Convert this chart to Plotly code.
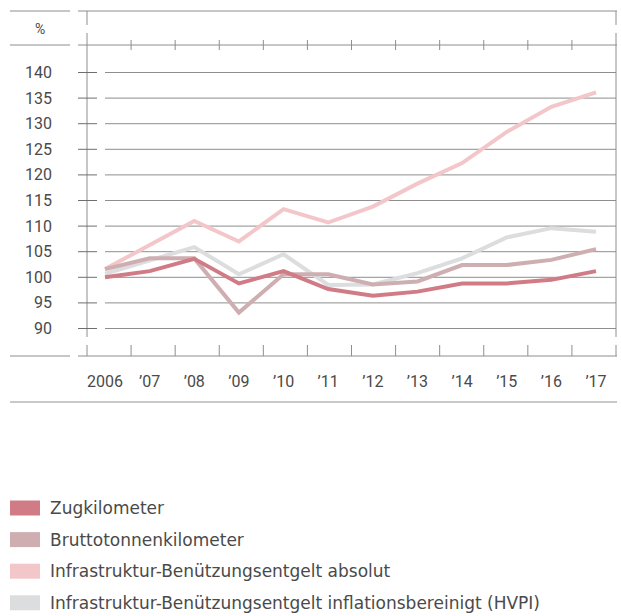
import plotly.graph_objects as go

# ---------------- data ----------------
years = ["2006", "’07", "’08", "’09", "’10", "’11", "’12", "’13", "’14", "’15", "’16", "’17"]
zugkilometer = [100.0, 101.2, 103.6, 98.8, 101.2, 97.7, 96.4, 97.2, 98.8, 98.8, 99.5, 101.2]
bruttotonnenkilometer = [101.6, 103.7, 103.7, 93.1, 100.6, 100.6, 98.6, 99.2, 102.4, 102.4, 103.4, 105.5]
ibe_absolut = [101.6, 106.3, 111.0, 107.0, 113.3, 110.7, 113.8, 118.3, 122.3, 128.4, 133.3, 136.1]
ibe_inflationsbereinigt = [100.7, 103.4, 105.9, 100.6, 104.5, 98.5, 98.6, 100.8, 103.7, 107.8, 109.6, 108.9]
y_ticks = [90, 95, 100, 105, 110, 115, 120, 125, 130, 135, 140]
series_names = [
    "Zugkilometer",
    "Bruttotonnenkilometer",
    "Infrastruktur-Benützungsentgelt absolut",
    "Infrastruktur-Benützungsentgelt inflationsbereinigt (HVPI)",
]
unit_label = "%"

# ---------------- style ----------------
W, H = 621, 616
ML, MR, MT, MB = 87, 5, 11, 260
PW, PH = W - ML - MR, H - MT - MB
FONT = "Roboto"
LFONT = "DejaVu Sans"
TXT = "#4a4a4a"
AX = "#8e8e8e"
colors = ["#d07b86", "#cfaeb1", "#f3c7ca", "#dcdddf"]
series = [zugkilometer, bruttotonnenkilometer, ibe_absolut, ibe_inflationsbereinigt]


def px2x(px):
    return (px - ML) / PW


def py2y(py):
    return (H - MB - py) / PH


fig = go.Figure()
x_idx = list(range(len(years)))
# draw order: lightest first, Zugkilometer on top
for i in [3, 2, 1, 0]:
    fig.add_trace(go.Scatter(
        x=x_idx, y=series[i], mode="lines", name=series_names[i],
        line=dict(color=colors[i], width=4), showlegend=False,
        hoverinfo="skip",
    ))

shapes = []


def hline_px(py, x0, x1, color=AX, width=1):
    shapes.append(dict(type="line", xref="paper", yref="paper",
                       x0=px2x(x0), x1=px2x(x1), y0=py2y(py), y1=py2y(py),
                       line=dict(color=color, width=width), layer="below"))


def vline_px(px, y0, y1, color=AX, width=1):
    shapes.append(dict(type="line", xref="paper", yref="paper",
                       x0=px2x(px), x1=px2x(px), y0=py2y(y0), y1=py2y(y1),
                       line=dict(color=color, width=width), layer="below"))


# frame lines
for py in (11, 45, 356):
    hline_px(py, 10, 70)
    hline_px(py, 78, 617)
hline_px(402, 10, 617, color="#c9c9c9", width=2)

for px in (87, 616):
    vline_px(px, 11, 25)
    vline_px(px, 33, 337)

# column ticks (12 bands)
for k in range(13):
    xp = k / 12
    if 0 < k < 12:
        shapes.append(dict(type="line", xref="paper", yref="paper", x0=xp, x1=xp,
                           y0=py2y(40), y1=py2y(50), line=dict(color=AX, width=1)))
    shapes.append(dict(type="line", xref="paper", yref="paper", x0=xp, x1=xp,
                       y0=py2y(345), y1=py2y(356), line=dict(color=AX, width=1)))

annotations = [dict(text=unit_label, xref="paper", yref="paper", x=px2x(40), y=py2y(29),
                    xanchor="center", yanchor="middle", showarrow=False,
                    font=dict(family=FONT, size=14, color=TXT))]

# gridlines, y ticks and y tick labels
for v in y_ticks:
    shapes.append(dict(type="line", xref="paper", yref="y", x0=px2x(105), x1=1,
                       y0=v, y1=v, line=dict(color=AX, width=1), layer="below"))
    shapes.append(dict(type="line", xref="paper", yref="y", x0=px2x(78), x1=px2x(97),
                       y0=v, y1=v, line=dict(color="#6e6e6e", width=1), layer="below"))
    annotations.append(dict(text=str(v), xref="paper", yref="y", x=px2x(54), y=v,
                            xanchor="right", yanchor="middle", showarrow=False,
                            font=dict(family=FONT, size=16, color=TXT)))

# legend (manual, square swatches)
for i, name in enumerate(series_names):
    cy = 508 + i * 31.6
    shapes.append(dict(type="rect", xref="paper", yref="paper",
                       x0=px2x(10), x1=px2x(40), y0=py2y(cy - 7.5), y1=py2y(cy + 7.5),
                       fillcolor=colors[i], line=dict(width=0)))
    annotations.append(dict(text=name, xref="paper", yref="paper", x=px2x(48), y=py2y(cy),
                            xanchor="left", yanchor="middle", showarrow=False,
                            font=dict(family=LFONT, size=17, color=TXT)))

fig.update_layout(
    width=W, height=H,
    margin=dict(l=ML, r=MR, t=MT, b=MB),
    paper_bgcolor="white", plot_bgcolor="white",
    shapes=shapes, annotations=annotations,
    showlegend=False,
    xaxis=dict(range=[-18 / 44.636, 11 + 20 / 44.636],
               tickvals=x_idx, ticktext=years, showgrid=False, zeroline=False,
               showline=False, ticks="", ticklabelstandoff=14,
               tickfont=dict(family=FONT, size=16, color=TXT), fixedrange=True),
    yaxis=dict(range=[100 - 78.7 / 5.12, 100 + 266.3 / 5.12],
               showticklabels=False, showgrid=False, zeroline=False,
               showline=False, ticks="", fixedrange=True),
)

fig.write_html("out.html", config={"displayModeBar": False},
               post_script="document.body.style.margin='0';document.body.style.overflow='hidden';")
